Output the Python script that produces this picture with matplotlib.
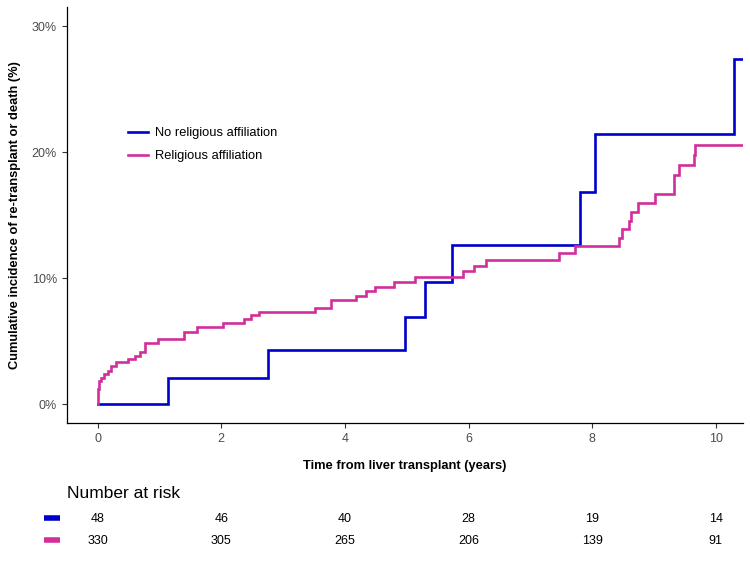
import matplotlib
matplotlib.use("Agg")
import matplotlib.pyplot as plt
from matplotlib.lines import Line2D

plt.rcParams['font.family'] = ['Liberation Sans', 'DejaVu Sans']

# ---- data ----
group_labels = ["No religious affiliation", "Religious affiliation"]
group_colors = ["#0000CD", "#D22E9B"]

followup_end = 10.44

no_rel_times = [0, 1.14, 2.75, 4.97, 5.29, 5.73, 7.81, 8.04, 10.29]
no_rel_cuminc = [0, 2.1, 4.3, 6.9, 9.7, 12.6, 16.8, 21.4, 27.4]

rel_times = [0, 0.005, 0.012, 0.023, 0.055, 0.10, 0.17, 0.21, 0.29, 0.49, 0.61,
             0.69, 0.76, 0.97, 1.39, 1.60, 2.03, 2.37, 2.48, 2.61, 3.51, 3.77,
             4.18, 4.34, 4.48, 4.80, 5.13, 5.91, 6.09, 6.28, 7.46, 7.73, 8.44,
             8.49, 8.60, 8.63, 8.74, 9.01, 9.33, 9.41, 9.65, 9.67]
rel_cuminc = [0, 0.6, 1.2, 1.8, 2.1, 2.4, 2.65, 3.0, 3.33, 3.57, 3.83,
              4.15, 4.87, 5.13, 5.74, 6.08, 6.4, 6.72, 7.04, 7.30, 7.62, 8.25,
              8.6, 8.97, 9.31, 9.71, 10.06, 10.56, 10.98, 11.43, 11.96, 12.54, 13.2,
              13.9, 14.55, 15.24, 15.93, 16.67, 18.2, 18.97, 19.76, 20.56]

risk_times = [0, 2, 4, 6, 8, 10]
risk_no_rel = [48, 46, 40, 28, 19, 14]
risk_rel = [330, 305, 265, 206, 139, 91]

x_ticks = [0, 2, 4, 6, 8, 10]
y_ticks = [0, 10, 20, 30]

# ---- figure ----
W, H = 750, 563
fig = plt.figure(figsize=(7.5, 5.63), dpi=100)

left_px, right_px, top_px, bottom_px = 66.7, 743.0, 7.1, 423.0
ax = fig.add_axes([left_px / W, 1 - bottom_px / H, (right_px - left_px) / W,
                   (bottom_px - top_px) / H])

series = [(no_rel_times, no_rel_cuminc), (rel_times, rel_cuminc)]
for (t, v), lab, col in zip(series, group_labels, group_colors):
    tt = list(t) + [followup_end]
    vv = list(v) + [v[-1]]
    ax.step(tt, vv, where='post', color=col, lw=1.9, label=lab, solid_joinstyle='miter')

ax.set_xlim(-0.5, 10.44)
ax.set_ylim(-1.5, 31.5)
ax.set_xticks(x_ticks)
ax.set_yticks(y_ticks)
ax.set_yticklabels([f"{v}%" for v in y_ticks])
ax.tick_params(axis='both', colors='#333333', labelcolor='#4D4D4D', labelsize=9,
               length=3.5, width=0.8)
for s in ['top', 'right']:
    ax.spines[s].set_visible(False)
for s in ['left', 'bottom']:
    ax.spines[s].set_color('black')
    ax.spines[s].set_linewidth(0.9)

ax.set_xlabel("Time from liver transplant (years)", fontsize=9.3, fontweight='bold',
              labelpad=11)
ax.set_ylabel("Cumulative incidence of re-transplant or death (%)", fontsize=9.3,
              fontweight='bold', labelpad=8)

leg = ax.legend(loc='upper left', bbox_to_anchor=((123 - left_px) / (right_px - left_px),
                                                  1 - (122 - top_px) / (bottom_px - top_px)),
                frameon=False, fontsize=9.3, handlelength=1.5, handletextpad=0.6,
                labelspacing=0.85, borderaxespad=0)

# ---- risk table ----
ax2 = fig.add_axes([left_px / W, 1 - 552 / H, (right_px - left_px) / W, 70 / H])
ax2.set_xlim(-0.5, 10.44)
ax2.set_ylim(552, 482)
ax2.axis('off')

fig.text(67 / W, 1 - 494 / H, "Number at risk", fontsize=12.5, ha='left', va='center')

row_y = [519, 541]
for yv, counts, col in zip(row_y, [risk_no_rel, risk_rel], group_colors):
    for t, n in zip(risk_times, counts):
        ax2.text(t, yv, str(n), ha='center', va='center', fontsize=9, color='black')
    fig.add_artist(Line2D([44 / W, 60 / W], [1 - (yv - 1) / H, 1 - (yv - 1) / H],
                          color=col, lw=4, solid_capstyle='butt'))

fig.savefig("out.png", dpi=100)
